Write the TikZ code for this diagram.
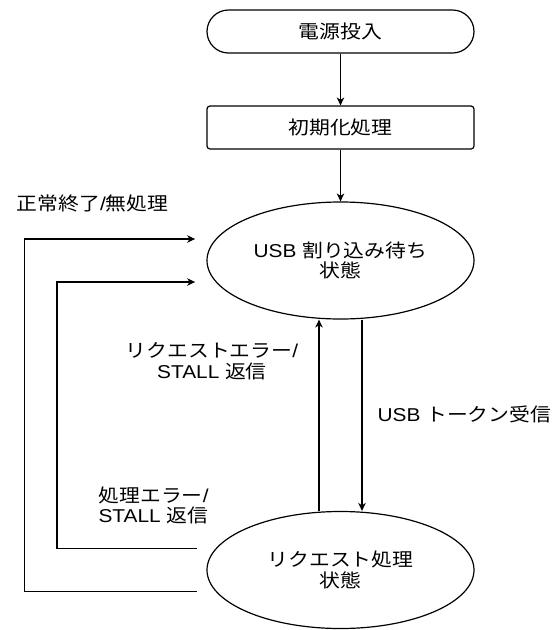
\documentclass[tikz,border=0pt]{standalone}
\usepackage{fontspec}
\setmainfont{Liberation Sans}[FakeStretch=1.12]
\newfontfamily\jp{Noto Sans CJK JP}[FakeStretch=1.12]
\usetikzlibrary{shapes.geometric,arrows.meta,calc}
\begin{document}
\begin{tikzpicture}[x=1pt,y=-1pt,
  line width=1.2pt,
  txt/.style={font=\fontsize{18.6pt}{20.5pt}\selectfont, align=center, inner sep=0pt},
  stadium/.style={txt, draw, rectangle, rounded corners=21.5pt, minimum width=267pt, minimum height=43pt},
  procbox/.style={txt, draw, rectangle, rounded corners=3pt, minimum width=267pt, minimum height=43pt},
  stateell/.style={txt, draw, ellipse, minimum width=267pt, minimum height=117pt},
  arr/.style={-{Stealth[length=8pt,width=7.5pt,inset=2.5pt]}}]
\useasboundingbox (0,0) rectangle (558,630);

\node[stadium] (start) at (340.5,31.5) {\jp 電源投入};
\node[procbox] (init) at (340.5,127.5) {\jp 初期化処理};
\node[stateell] (wait) at (340.5,260.5) {USB {\jp 割り込み待ち}\\{\jp 状態}};
\node[stateell] (req) at (340.5,570) {{\jp リクエスト処理}\\{\jp 状態}};

\draw[arr] (start.south) -- (init.north);
\draw[arr] (init.south) -- (wait.north);
\draw[arr] ([xshift=21.5pt]wait.south) -- ([xshift=21.5pt]req.north);
\draw[arr] ([xshift=-21.5pt]req.north) -- ([xshift=-21.5pt]wait.south);

\coordinate (ot) at ($(wait.west)+(-11.3,-21.5)$);
\coordinate (it) at ($(wait.west)+(-11.3,21.5)$);
\coordinate (ob) at ($(req.west)+(-9.5,21.7)$);
\coordinate (ib) at ($(req.west)+(-9.5,-21.3)$);
\draw[arr] (ob) -- ++(-172.5,0) |- (ot);
\draw[arr] (ib) -- ++(-140,0) |- (it);

\node[txt] (l1) at (92.5,203) {{\jp 正常終了}/{\jp 無処理}};
\node[txt] (l2) at (212,361) {{\jp リクエストエラー}/\\STALL {\jp 返信}};
\node[txt, anchor=west] (l3) at (377,414.3) {USB {\jp トークン受信}};
\node[txt, align=left, anchor=west] (l4) at (98,505.5) {{\jp 処理エラー}/\\STALL {\jp 返信}};
\end{tikzpicture}
\end{document}
